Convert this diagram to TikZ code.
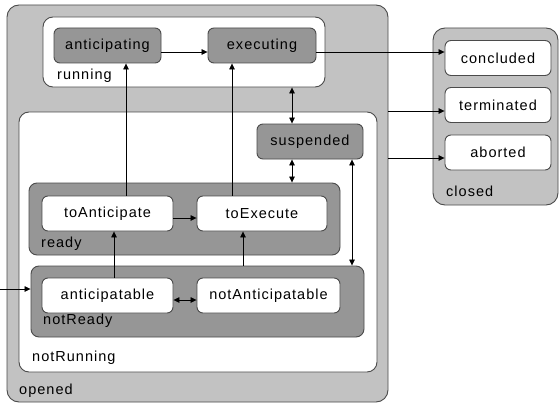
\documentclass[tikz,border=0pt]{standalone}
\usepackage{fontspec}
\setmainfont{Liberation Sans}[LetterSpace=7]
\usetikzlibrary{arrows.meta}
\definecolor{lightgr}{RGB}{194,194,194}
\definecolor{darkgr}{RGB}{150,150,150}
\definecolor{edgegr}{RGB}{75,75,75}

\begin{document}
\begin{tikzpicture}[x=1pt, y=-1pt,
						font=\fontsize{14.5}{17}\selectfont,
						outerbox/.style={rectangle, draw=edgegr, line width=0.9pt, fill=lightgr, rounded corners=12pt},
						innerbox/.style={rectangle, draw=edgegr, line width=0.9pt, fill=white, rounded corners=10pt},
						darkbox/.style={rectangle, draw=edgegr, line width=0.9pt, fill=darkgr, rounded corners=8pt},
						darkstate/.style={rectangle, draw=edgegr, line width=0.9pt, fill=darkgr, minimum height=35pt, text centered, rounded corners=6pt},
						lightstate/.style={rectangle, draw=edgegr, line width=0.9pt, fill=white, minimum height=35pt, text centered, rounded corners=6pt},
						boxlabel/.style={anchor=base west, inner sep=0pt},
						trans/.style={-{Triangle[length=6pt,width=5.5pt]}, line width=0.7pt, black},
						dtrans/.style={{Triangle[length=6pt,width=5.5pt]}-{Triangle[length=6pt,width=5.5pt]}, line width=0.7pt, black}
						]
						
						\useasboundingbox (0,0) rectangle (559,404);
						
						% Contenedores
						\node[outerbox, minimum width=381pt, minimum height=397pt] (opened) at (197.5,203.5) {};
						\node[outerbox, minimum width=125pt, minimum height=177pt] (closed) at (495.5,116.5) {};
						\node[innerbox, minimum width=282pt, minimum height=70pt] (running) at (184,52) {};
						\node[innerbox, minimum width=358pt, minimum height=260pt] (notRunning) at (198,242) {};
						\node[darkbox, minimum width=311pt, minimum height=72pt] (ready) at (184.5,219) {};
						\node[darkbox, minimum width=333pt, minimum height=71pt] (notReady) at (197.5,301.5) {};
						
						% Estados
						\node[darkstate, minimum width=107pt] (anticipating) at (107.5,45.5) {anticipating};
						\node[darkstate, minimum width=108pt] (executing) at (262,45.5) {executing};
						\node[darkstate, minimum width=106pt] (suspended) at (310,141.5) {suspended};
						\node[lightstate, minimum width=131pt] (toAnticipate) at (107.5,213.5) {toAnticipate};
						\node[lightstate, minimum width=130pt] (toExecute) at (262,213.5) {toExecute};
						\node[lightstate, minimum width=131pt] (anticipatable) at (107.5,295.5) {anticipatable};
						\node[lightstate, minimum width=143pt] (notAnticipatable) at (268.5,295.5) {notAnticipatable};
						\node[lightstate, minimum width=106pt] (concluded) at (498,58) {concluded};
						\node[lightstate, minimum width=106pt] (terminated) at (498,105) {terminated};
						\node[lightstate, minimum width=106pt] (aborted) at (498,152.5) {aborted};
						
						% Etiquetas de los contenedores
						\node[boxlabel] (openedLbl) at (19,394) {opened};
						\node[boxlabel] (closedLbl) at (446,196) {closed};
						\node[boxlabel] (runningLbl) at (57,79) {running};
						\node[boxlabel] (notRunningLbl) at (32,361) {notRunning};
						\node[boxlabel] (readyLbl) at (41,247) {ready};
						\node[boxlabel] (notReadyLbl) at (43,324) {notReady};
						
						% Transiciones horizontales
						\draw[trans] ([yshift=-6.5]anticipating.east) -- ([yshift=-6.5]executing.west);
						\draw[trans] ([yshift=-6.5]executing.east) -- ([yshift=-6.5]executing.east -| concluded.west);
						\draw[trans] ([yshift=-6]terminated.west -| opened.east) -- ([yshift=-6]terminated.west);
						\draw[trans] ([yshift=-5.5]aborted.west -| opened.east) -- ([yshift=-5.5]aborted.west);
						\draw[trans] ([yshift=-4.5]toAnticipate.east) -- ([yshift=-4.5]toExecute.west);
						\draw[dtrans] ([yshift=-4.5]anticipatable.east) -- ([yshift=-4.5]notAnticipatable.west);
						
						% Entrada
						\coordinate (entry) at (0,289);
						\draw[trans] (entry) -- (entry -| notReady.west);
						
						% Transiciones verticales
						\draw[trans] ([xshift=6.5]anticipatable.north) -- ([xshift=6.5]anticipatable.north |- toAnticipate.south);
						\draw[trans] ([xshift=-19]toExecute.south |- notReady.north) -- ([xshift=-19]toExecute.south);
						\draw[trans] ([xshift=18.5]toAnticipate.north) -- ([xshift=18.5]toAnticipate.north |- anticipating.south);
						\draw[trans] ([xshift=-30]toExecute.north) -- ([xshift=-30]toExecute.north |- executing.south);
						\draw[dtrans] ([xshift=-18]suspended.north |- running.south) -- ([xshift=-18]suspended.north);
						\draw[dtrans] ([xshift=-18]suspended.south) -- ([xshift=-18]suspended.south |- ready.north);
						\draw[dtrans] ([xshift=42]suspended.south) -- ([xshift=42]suspended.south |- notReady.north);
						
					\end{tikzpicture}
\end{document}
